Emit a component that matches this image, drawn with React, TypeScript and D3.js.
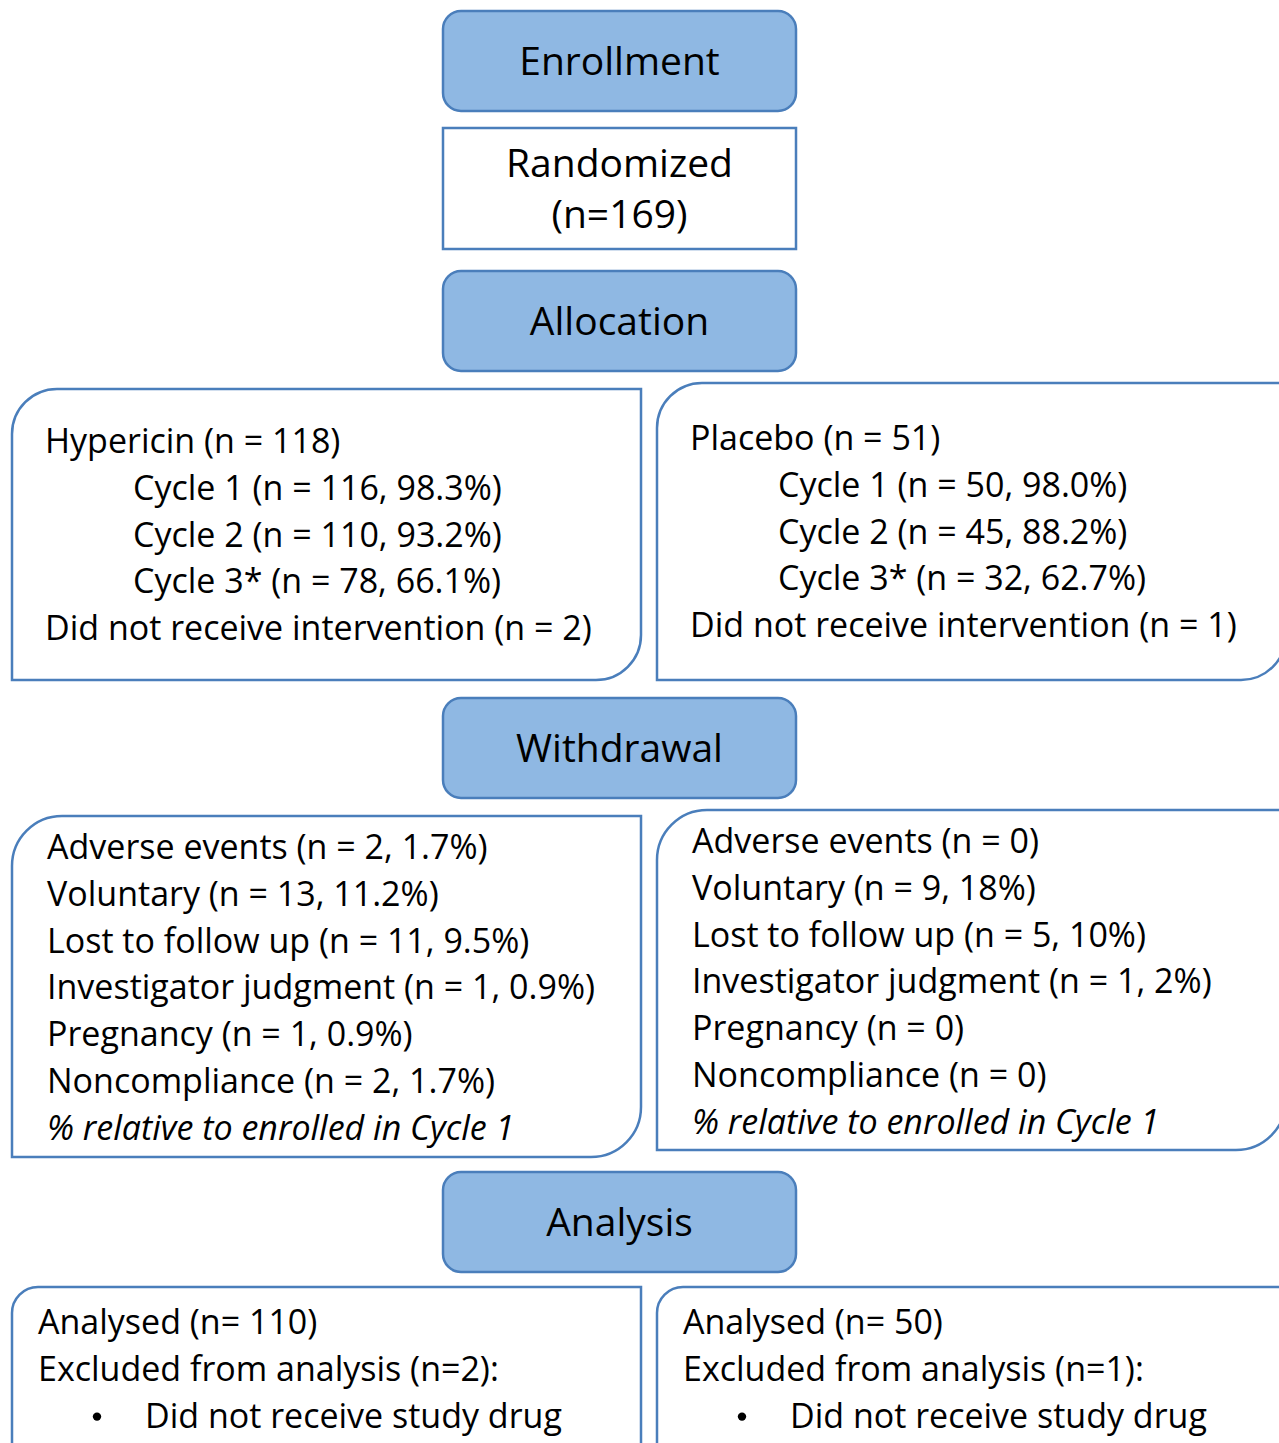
import React from 'react';
import { path, scaleBand, scaleLinear } from 'd3';

// chart data
const stages = ['Enrollment', 'Allocation', 'Withdrawal', 'Analysis'];
const randomizedN = 169;
const arms = ['Hypericin', 'Placebo'];
const armN = [118, 51];
const cycles = ['Cycle 1', 'Cycle 2', 'Cycle 3*'];
const cycleN = [
  [116, 110, 78],
  [50, 45, 32],
];
const cyclePct = [
  ['98.3', '93.2', '66.1'],
  ['98.0', '88.2', '62.7'],
];
const notReceived = [2, 1];
const reasons = [
  'Adverse events',
  'Voluntary',
  'Lost to follow up',
  'Investigator judgment',
  'Pregnancy',
  'Noncompliance',
];
const reasonN = [
  [2, 13, 11, 1, 1, 2],
  [0, 9, 5, 1, 0, 0],
];
const reasonPct = [
  ['1.7', '11.2', '9.5', '0.9', '0.9', '1.7'],
  ['', '18', '10', '2', '', ''],
];
const analysedN = [110, 50];
const excludedN = [2, 1];
const pctNote = '% relative to enrolled in Cycle 1';
const excludedReason = 'Did not receive study drug';

const dims = {
  width: 1279,
  height: 1443,
  headX: 443,
  headW: 353,
  headH: 100,
  lineGap: 46.8,
  body: 34,
  head: 39,
};

const FONT = "'Open Sans', sans-serif";
const STROKE = '#4a7ebb';
const FILL = '#8fb8e3';

const headerY = [11, 271, 698, 1172];

// columns for the two arms
const xCol = scaleBand<string>()
  .domain(arms)
  .range([12, 1286])
  .paddingInner(16 / 645);

type Line = { text: string; indent?: number; italic?: boolean; bullet?: boolean };

const diagBox = (x: number, y: number, w: number, h: number, r: number) => {
  const p = path();
  p.moveTo(x + r, y);
  p.lineTo(x + w, y);
  p.lineTo(x + w, y + h - r);
  p.arcTo(x + w, y + h, x + w - r, y + h, r);
  p.lineTo(x, y + h);
  p.lineTo(x, y + r);
  p.arcTo(x, y, x + r, y, r);
  p.closePath();
  return p.toString();
};

const allocLines = (i: number): Line[] => [
  { text: `${arms[i]} (n = ${armN[i]})` },
  ...cycles.map((c, k) => ({
    text: `${c} (n = ${cycleN[i][k]}, ${cyclePct[i][k]}%)`,
    indent: 88,
  })),
  { text: `Did not receive intervention (n = ${notReceived[i]})` },
];

const withdrawLines = (i: number): Line[] => [
  ...reasons.map((r, k) => ({
    text:
      reasonPct[i][k] === ''
        ? `${r} (n = ${reasonN[i][k]})`
        : `${r} (n = ${reasonN[i][k]}, ${reasonPct[i][k]}%)`,
  })),
  { text: pctNote, italic: true },
];

const analysisLines = (i: number): Line[] => [
  { text: `Analysed (n= ${analysedN[i]})` },
  { text: `Excluded from analysis (n=${excludedN[i]}):` },
  { text: excludedReason, bullet: true, indent: 107 },
];

// panel layout per stage row: top y per arm, bottom, corner radius, text pad, first baseline per arm
const panels = [
  { top: [389, 383], bottom: 680, r: 45, pad: 33, base: [453, 450], lines: allocLines },
  { top: [816, 810], bottom: [1157, 1150], r: 50, pad: 35, base: [859, 853], lines: withdrawLines },
  { top: [1287, 1287], bottom: 1470, r: 26, pad: 26, base: [1334, 1334], lines: analysisLines },
];

const TextBlock = ({ x, base, lines }: { x: number; base: number; lines: Line[] }) => {
  const y = scaleLinear()
    .domain([0, 1])
    .range([base, base + dims.lineGap]);
  return (
    <g fill='#000'>
      {lines.map((l, k) => (
        <g key={k}>
          {l.bullet && (
            <circle cx={x + 59} cy={y(k) - 11} r={4.2} />
          )}
          <text
            x={x + (l.indent || 0)}
            y={y(k)}
            fontSize={dims.body}
            fontStyle={l.italic ? 'italic' : 'normal'}
          >
            {l.text}
          </text>
        </g>
      ))}
    </g>
  );
};

const App = () => {
  const cx = dims.headX + dims.headW / 2;
  return (
    <div style={{ position: 'absolute', left: 0, top: 0 }}>
      <svg
        width={dims.width}
        height={dims.height}
        style={{ display: 'block', background: '#fff' }}
        fontFamily={FONT}
      >
        {stages.map((s, i) => (
          <g key={s}>
            <rect
              x={dims.headX}
              y={headerY[i]}
              width={dims.headW}
              height={dims.headH}
              rx={18}
              fill={FILL}
              stroke={STROKE}
              strokeWidth={2.5}
            />
            <text
              x={cx}
              y={headerY[i] + dims.headH / 2 + 14}
              textAnchor='middle'
              fontSize={dims.head}
              fill='#000'
            >
              {s}
            </text>
          </g>
        ))}

        <rect
          x={dims.headX}
          y={128}
          width={dims.headW}
          height={121}
          fill='#fff'
          stroke={STROKE}
          strokeWidth={2.5}
        />
        <text x={cx} y={177} textAnchor='middle' fontSize={dims.head} fill='#000'>
          Randomized
        </text>
        <text x={cx} y={228} textAnchor='middle' fontSize={dims.head} fill='#000'>
          (n={randomizedN})
        </text>

        {panels.map((p, row) =>
          arms.map((a, i) => {
            const x0 = xCol(a) as number;
            const w = xCol.bandwidth();
            const bottom = Array.isArray(p.bottom) ? p.bottom[i] : p.bottom;
            return (
              <g key={`${row}-${a}`}>
                <path
                  d={diagBox(x0, p.top[i], w, bottom - p.top[i], p.r)}
                  fill='#fff'
                  stroke={STROKE}
                  strokeWidth={2.5}
                />
                <TextBlock x={x0 + p.pad} base={p.base[i]} lines={p.lines(i)} />
              </g>
            );
          })
        )}
      </svg>
    </div>
  );
};

export default App;
